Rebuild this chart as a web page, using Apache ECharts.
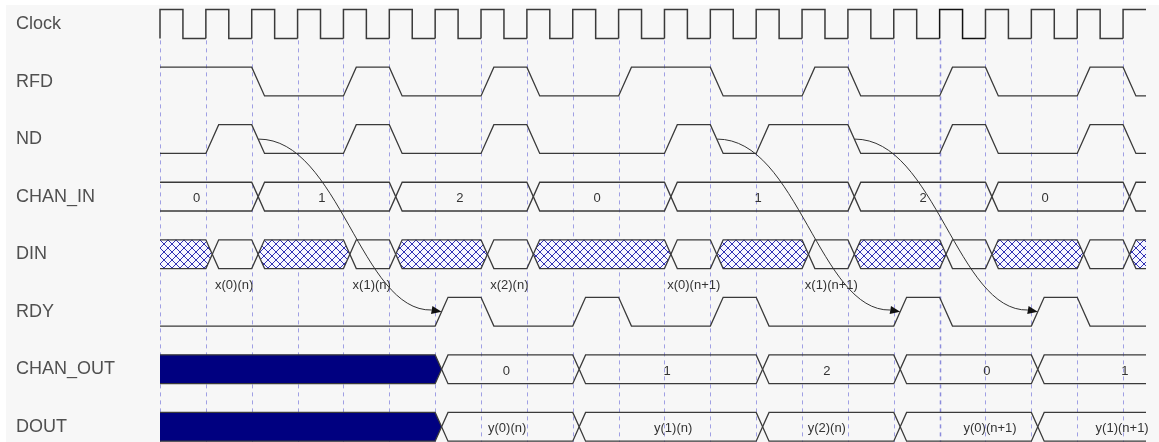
<!DOCTYPE html>
<html><head><meta charset="utf-8">
<script src="https://cdn.jsdelivr.net/npm/echarts@6/dist/echarts.min.js"></script>
<style>
html,body{margin:0;padding:0;background:#fff;}
#wrap{position:relative;width:1159px;height:442px;overflow:hidden;}
#bg{position:absolute;left:6px;top:5px;right:0;bottom:0;background:#f7f7f7;}
#chart{position:absolute;left:0;top:0;width:1159px;height:442px;}
</style></head><body>
<div id="wrap"><div id="bg"></div><div id="chart"></div></div>
<script>
// ---------- data (time in clock cycles) ----------
const rowNames = ['Clock','RFD','ND','CHAN_IN','DIN','RDY','CHAN_OUT','DOUT'];
const T_END = 21.5;
const clockRises = [0,1,2,3,4,5,6,7,8,9,10,11,12,13,14,15,16,17,18,19,20,21];
const clockHighLen = 0.5;
const rfdHigh = [[0,2],[4,5],[7,8],[10,12],[14,15],[17,18],[20,21]];
const ndHigh  = [[1,2],[4,5],[7,8],[11,12],[13,15],[17,18],[20,21]];
const rdyHigh = [[6,7],[9,10],[12,13],[16,17],[19,20]];
// bus segments: [start, end, kind, label, labelTime]
const chanIn = [[0,2,'open','0',0.8],[2,5,'open','1',3.53],[5,8,'open','2',6.54],[8,11,'open','0',9.53],
                [11,15,'open','1',13.04],[15,18,'open','2',16.64],[18,21,'open','0',19.3],[21,21.5,'open','',0]];
const din = [[0,1,'hatch'],[1,2,'open'],[2,4,'hatch'],[4,5,'open'],[5,7,'hatch'],[7,8,'open'],[8,11,'hatch'],
             [11,12,'open'],[12,14,'hatch'],[14,15,'open'],[15,17,'hatch'],[17,18,'open'],[18,20,'hatch'],
             [20,21,'open'],[21,21.5,'hatch']];
const dinLabels = [[1.2,'x(0)(n)'],[4.2,'x(1)(n)'],[7.2,'x(2)(n)'],[11.06,'x(0)(n+1)'],[14.06,'x(1)(n+1)']];
const chanOut = [[0,6,'solid','',0],[6,9,'open','0',7.55],[9,13,'open','1',11.06],[13,16,'open','2',14.54],
                 [16,19,'open','0',18.03],[19,21.5,'open','1',21.04]];
const dout = [[0,6,'solid','',0],[6,9,'open','y(0)(n)',7.57],[9,13,'open','y(1)(n)',11.19],[13,16,'open','y(2)(n)',14.54],
              [16,19,'open','y(0)(n+1)',18.1],[19,21.5,'open','y(1)(n+1)',20.98]];
// ND falling-edge cycle -> RDY rising-edge cycle
const arrowLinks = [[2,6],[12,16],[15,19]];
const cursorT = 17;

// ---------- styling ----------
const EDGE = 0.28;      // edge duration (cycles)
const AMP = 0.25;       // half amplitude in row units
const LINE = '#3a3a3a';
const FONT = 'Liberation Sans, Arial, sans-serif';

const tile = document.createElement('canvas');
tile.width = 8; tile.height = 8;
(function(){
  const c = tile.getContext('2d');
  c.fillStyle = '#f6f6ff'; c.fillRect(0,0,8,8);
  c.strokeStyle = '#3030b4'; c.lineWidth = 1;
  c.beginPath();
  c.moveTo(-1,-1); c.lineTo(9,9);
  c.moveTo(9,-1); c.lineTo(-1,9);
  c.stroke();
})();
const hatchFill = {image: tile, repeat: 'repeat'};

function rowGeom(api, row){
  const yc = api.coord([0,row])[1];
  const sp = api.coord([0,1])[1] - api.coord([0,0])[1];
  const h = Math.abs(sp) * AMP;
  return {yc, hi: yc - h, lo: yc + h, sp: Math.abs(sp)};
}
const X = (api,t) => api.coord([t,0])[0];

function digitalSeries(row, highs){
  return {
    type:'custom', coordinateSystem:'cartesian2d', data:[[0,row]], z:3, silent:true,
    renderItem(params, api){
      const g = rowGeom(api,row);
      const pts = [];
      pts.push([X(api,0), highs[0][0] === 0 ? g.hi : g.lo]);
      highs.forEach(([a,b]) => {
        if (a > 0){ pts.push([X(api,a), g.lo]); pts.push([X(api,a+EDGE), g.hi]); }
        pts.push([X(api,b), g.hi]); pts.push([X(api,Math.min(b+EDGE,T_END)), g.lo]);
      });
      pts.push([X(api,T_END), g.lo]);
      return {type:'polyline', shape:{points:pts}, style:{stroke:LINE, lineWidth:1.3, fill:null}};
    }
  };
}

function busSeries(row, segs){
  return {
    type:'custom', coordinateSystem:'cartesian2d', z:3, silent:true,
    data: segs.map(s => [s[0], row]),
    renderItem(params, api){
      const s = segs[params.dataIndex];
      const g = rowGeom(api,row);
      const a = s[0], b = s[1], kind = s[2];
      const top = [], bot = [];
      let lt = null, rt = null;
      if (a <= 0){ top.push([X(api,0), g.hi]); bot.push([X(api,0), g.lo]); }
      else { lt = [X(api,a+EDGE/2), g.yc]; top.push(lt,[X(api,a+EDGE), g.hi]); bot.push(lt,[X(api,a+EDGE), g.lo]); }
      if (b >= T_END){ top.push([X(api,T_END), g.hi]); bot.push([X(api,T_END), g.lo]); }
      else { rt = [X(api,b+EDGE/2), g.yc]; top.push([X(api,b), g.hi], rt); bot.push([X(api,b), g.lo], rt); }
      const children = [];
      if (kind !== 'open'){
        const poly = top.concat(bot.slice().reverse());
        children.push({type:'polygon', shape:{points:poly},
          style:{fill: kind === 'hatch' ? hatchFill : '#000080', stroke:null}});
      }
      children.push({type:'polyline', shape:{points:top}, style:{stroke:LINE, lineWidth:1.3, fill:null}});
      children.push({type:'polyline', shape:{points:bot}, style:{stroke:LINE, lineWidth:1.3, fill:null}});
      if (s[3]){
        children.push({type:'text', style:{text:s[3], x:X(api,s[4]), y:g.yc+2, align:'center', verticalAlign:'middle',
          fill:'#333', fontSize:13, fontFamily:FONT}});
      }
      return {type:'group', children};
    }
  };
}

const option = {
  animation:false,
  backgroundColor:'transparent',
  grid:{left:160, right:13, top:24, bottom:15.2},
  xAxis:{type:'value', min:0, max:T_END, show:false},
  yAxis:{type:'category', data:rowNames, inverse:true, boundaryGap:false,
    axisLine:{show:false}, axisTick:{show:false}, splitLine:{show:false},
    axisLabel:{align:'left', margin:144, fontSize:18, color:'#505050', fontFamily:FONT, padding:[0,0,7,0]}},
  series:[
    // dashed clock-edge guides
    {type:'custom', coordinateSystem:'cartesian2d', z:1, silent:true,
     data: clockRises.map(t => [t,0]),
     renderItem(params, api){
       const t = clockRises[params.dataIndex];
       const g = rowGeom(api,0);
       const x = Math.round(X(api,t)) + 0.5;
       const cur = t === cursorT;
       return {type:'line', shape:{x1:x, y1:g.lo+2, x2:x, y2:api.getHeight()},
         style:{stroke: cur ? '#8c8cdc' : '#a0a0e4', lineWidth: cur ? 1.5 : 1, lineDash:[4,4]}};
     }},
    // clock
    {type:'custom', coordinateSystem:'cartesian2d', z:3, silent:true,
     data: clockRises.map(t => [t,0]),
     renderItem(params, api){
       const t = clockRises[params.dataIndex];
       const g = rowGeom(api,0);
       const pts = [[X(api,t), g.lo],[X(api,t), g.hi]];
       const f = Math.min(t+clockHighLen, T_END);
       pts.push([X(api,f), g.hi]);
       if (t+clockHighLen < T_END){ pts.push([X(api,f), g.lo]); pts.push([X(api,Math.min(t+1,T_END)), g.lo]); }
       return {type:'polyline', shape:{points:pts},
         style:{stroke: t === cursorT ? '#111' : LINE, lineWidth: 1.5, fill:null}};
     }},
    digitalSeries(1, rfdHigh),
    digitalSeries(2, ndHigh),
    busSeries(3, chanIn),
    busSeries(4, din),
    // DIN labels below the bus
    {type:'custom', coordinateSystem:'cartesian2d', z:4, silent:true,
     data: dinLabels.map(d => [d[0],4]),
     renderItem(params, api){
       const d = dinLabels[params.dataIndex];
       const g = rowGeom(api,4);
       return {type:'text', style:{text:d[1], x:X(api,d[0]), y:g.yc + g.sp*0.55, align:'left', verticalAlign:'middle',
         fill:'#333', fontSize:13, fontFamily:FONT}};
     }},
    digitalSeries(5, rdyHigh),
    busSeries(6, chanOut),
    busSeries(7, dout),
    // arrows ND -> RDY
    {type:'custom', coordinateSystem:'cartesian2d', z:5, silent:true,
     data: arrowLinks.map(l => [l[0],2]),
     renderItem(params, api){
       const l = arrowLinks[params.dataIndex];
       const p0 = api.coord([l[0]+0.15, 2]);
       const p3 = api.coord([l[1]+0.14, 5]);
       const dx = (p3[0]-p0[0])*0.44;
       const p1 = [p0[0]+dx, p0[1]], p2 = [p3[0]-dx, p3[1]];
       const bz = (s,i) => (1-s)**3*p0[i] + 3*(1-s)**2*s*p1[i] + 3*(1-s)*s*s*p2[i] + s**3*p3[i];
       const q = [bz(0.92,0), bz(0.92,1)];
       let ux = p3[0]-q[0], uy = p3[1]-q[1];
       const n = Math.hypot(ux,uy); ux/=n; uy/=n;
       const L = 10, W = 4;
       const base = [p3[0]-ux*L, p3[1]-uy*L];
       return {type:'group', children:[
         {type:'bezierCurve', shape:{x1:p0[0], y1:p0[1], cpx1:p1[0], cpy1:p1[1], cpx2:p2[0], cpy2:p2[1], x2:base[0], y2:base[1]},
          style:{stroke:'#333', lineWidth:1, fill:null}},
         {type:'polygon', shape:{points:[[p3[0],p3[1]],[base[0]-uy*W, base[1]+ux*W],[base[0]+uy*W, base[1]-ux*W]]},
          style:{fill:'#111', stroke:null}}
       ]};
     }}
  ]
};
const chart = echarts.init(document.getElementById('chart'), null, {renderer:'canvas'});
chart.setOption(option);
</script>
</body></html>
